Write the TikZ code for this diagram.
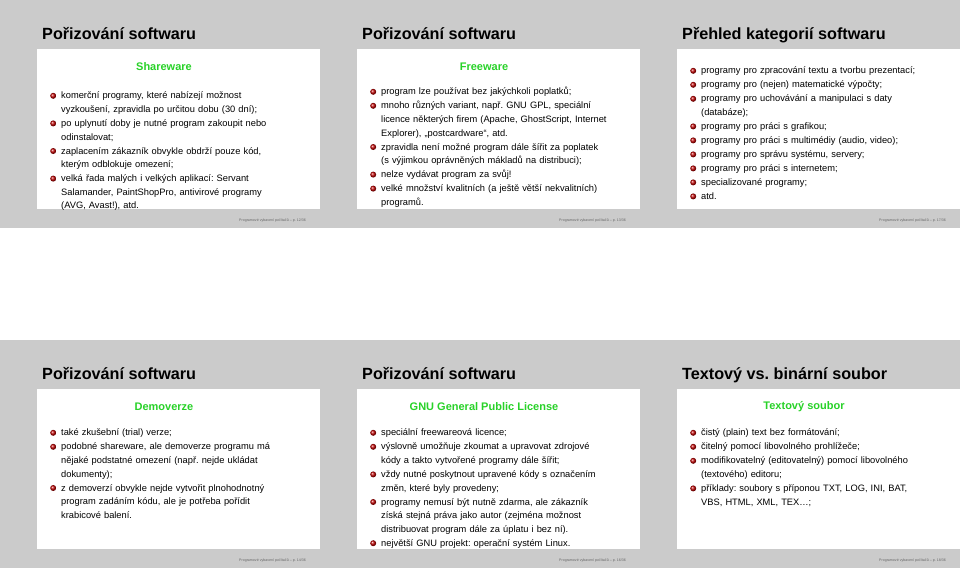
\documentclass[tikz,border=0pt]{standalone}
\usepackage{fontspec}
\setmainfont{Liberation Sans}
\usepackage{enumitem}
\usetikzlibrary{positioning}
\frenchspacing

\definecolor{slidegray}{RGB}{203,203,203}
\definecolor{headgreen}{RGB}{40,210,40}
\newcommand\ballbullet{\tikz\shade[ball color=red!75!black] (0,0) circle (3pt);}
\setlist[itemize]{label=\ballbullet, leftmargin=16pt, labelsep=5pt, itemsep=0.4pt, topsep=0pt, parsep=0pt, partopsep=0pt}

\tikzset{
  slidetitle/.style={anchor=base west, font=\fontsize{16.2}{18}\selectfont\bfseries, inner sep=0},
  slidehead/.style={font=\fontsize{11}{12}\selectfont\bfseries, text=headgreen, inner sep=0},
  slidebody/.style={anchor=north west, inner sep=0, text width=270pt, align=left,
    font=\fontsize{9.3}{13.6}\selectfont},
  slidefoot/.style={anchor=base east, font=\fontsize{3.6}{4}\selectfont, text=black!60, inner sep=0}
}

% #1 name, #2 x, #3 y, #4 title, #5 page
\newcommand\drawslide[5]{
  \fill[slidegray] (#2,#3) rectangle ++(320,228);
  \fill[white] (#2+37,#3+49) rectangle ++(283,160);
  \node[slidetitle] (#1title) at (#2+42,#3+39) {#4};
  \node[slidefoot] (#1foot) at (#2+306,#3+221) {Programové vybavení počítačů – p. #5/36};
}

\begin{document}
\begin{tikzpicture}[x=1pt, y=-1pt]
	\useasboundingbox (0,0) rectangle (960,568);
	
	%//top row
	\drawslide{s1}{0}{0}{Pořizování softwaru}{12}
	\node[slidehead] (s1head) at (164,67) {Shareware};
	\node[slidebody] (s1body) at (45,85) {\begin{itemize}
		\item komerční programy, které nabízejí možnost\\ vyzkoušení, zpravidla po určitou dobu (30 dní);
		\item po uplynutí doby je nutné program zakoupit nebo\\ odinstalovat;
		\item zaplacením zákazník obvykle obdrží pouze kód,\\ kterým odblokuje omezení;
		\item velká řada malých i velkých aplikací: Servant\\ Salamander, PaintShopPro, antivirové programy\\ (AVG, Avast!), atd.
	\end{itemize}};
	
	\drawslide{s2}{320}{0}{Pořizování softwaru}{13}
	\node[slidehead] (s2head) at (484,67) {Freeware};
	\node[slidebody] (s2body) at (365,81) {\begin{itemize}
		\item program lze používat bez jakýchkoli poplatků;
		\item mnoho různých variant, např. GNU GPL, speciální\\ licence některých firem (Apache, GhostScript, Internet\\ Explorer), „postcardware“, atd.
		\item zpravidla není možné program dále šířit za poplatek\\ (s výjimkou oprávněných mákladů na distribuci);
		\item nelze vydávat program za svůj!
		\item velké množství kvalitních (a ještě větší nekvalitních)\\ programů.
	\end{itemize}};
	
	\drawslide{s3}{640}{0}{Přehled kategorií softwaru}{17}
	\node[slidebody] (s3body) at (685,60) {\begin{itemize}
		\item programy pro zpracování textu a tvorbu prezentací;
		\item programy pro (nejen) matematické výpočty;
		\item programy pro uchovávání a manipulaci s daty\\ (databáze);
		\item programy pro práci s grafikou;
		\item programy pro práci s multimédiy (audio, video);
		\item programy pro správu systému, servery;
		\item programy pro práci s internetem;
		\item specializované programy;
		\item atd.
	\end{itemize}};
	
	%//bottom row
	\drawslide{s4}{0}{340}{Pořizování softwaru}{14}
	\node[slidehead] (s4head) at (164,407) {Demoverze};
	\node[slidebody] (s4body) at (45,422) {\begin{itemize}
		\item také zkušební (trial) verze;
		\item podobné shareware, ale demoverze programu má\\ nějaké podstatné omezení (např. nejde ukládat\\ dokumenty);
		\item z demoverzí obvykle nejde vytvořit plnohodnotný\\ program zadáním kódu, ale je potřeba pořídit\\ krabicové balení.
	\end{itemize}};
	
	\drawslide{s5}{320}{340}{Pořizování softwaru}{16}
	\node[slidehead] (s5head) at (484,407) {GNU General Public License};
	\node[slidebody] (s5body) at (365,422) {\begin{itemize}
		\item speciální freewareová licence;
		\item výslovně umožňuje zkoumat a upravovat zdrojové\\ kódy a takto vytvořené programy dále šířit;
		\item vždy nutné poskytnout upravené kódy s označením\\ změn, které byly provedeny;
		\item programy nemusí být nutně zdarma, ale zákazník\\ získá stejná práva jako autor (zejména možnost\\ distribuovat program dále za úplatu i bez ní).
		\item největší GNU projekt: operační systém Linux.
	\end{itemize}};
	
	\drawslide{s6}{640}{340}{Textový vs. binární soubor}{18}
	\node[slidehead] (s6head) at (804,407) {Textový soubor};
	\node[slidebody] (s6body) at (685,422) {\begin{itemize}
		\item čistý (plain) text bez formátování;
		\item čitelný pomocí libovolného prohlížeče;
		\item modifikovatelný (editovatelný) pomocí libovolného\\ (textového) editoru;
		\item příklady: soubory s příponou TXT, LOG, INI, BAT,\\ VBS, HTML, XML, TEX\ldots;
	\end{itemize}};
\end{tikzpicture}
\end{document}
